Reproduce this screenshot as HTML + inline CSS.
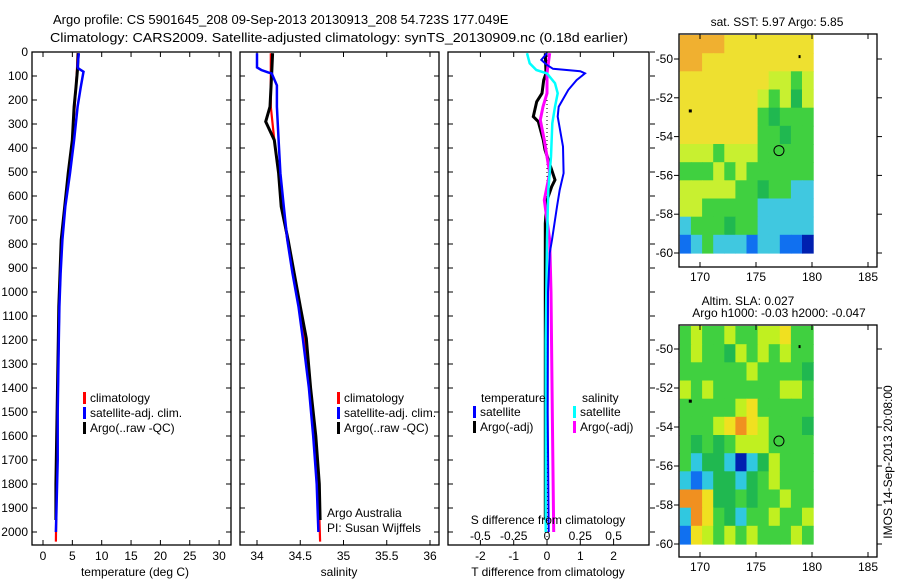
<!DOCTYPE html>
<html><head><meta charset="utf-8">
<style>
html,body{margin:0;padding:0;background:#fff;}
svg{display:block;font-family:"Liberation Sans",sans-serif;}
text{font-size:12px;fill:#000;}
</style></head>
<body>
<svg id="chart" width="900" height="580" viewBox="0 0 900 580" xmlns="http://www.w3.org/2000/svg">
<text x="53" y="24" style="font-size:13px">Argo profile: CS 5901645_208 09-Sep-2013 20130913_208 54.723S 177.049E</text>
<text x="50" y="42" style="font-size:13px" textLength="578" lengthAdjust="spacingAndGlyphs">Climatology: CARS2009. Satellite-adjusted climatology: synTS_20130909.nc (0.18d earlier)</text>
<g id="g"></g>
</svg>
<script>
// ---- data ----
const depthTicks=[0,100,200,300,400,500,600,700,800,900,1000,1100,1200,1300,1400,1500,1600,1700,1800,1900,2000];
const tempTicks=[0,5,10,15,20,25,30];
const salTicks=[34,34.5,35,35.5,36];
const salTickLabels=["34","34.5","35","35.5","36"];
const tdiffTicks=[-2,-1,0,1,2];
const sdiffTicks=[-0.5,-0.25,0,0.25,0.5];
const sdiffTickLabels=["-0.5","-0.25","0","0.25","0.5"];
// temperature profiles [depth, value]
const tempClimDepth=[5,68,150,228,367,505,644,783,922,1061,1200,1500,1800,2040];
const tempClim=[5.9,5.8,5.6,5.4,5.0,4.4,3.7,3.2,2.9,2.7,2.6,2.4,2.3,2.2];
const tempSatDepth=[5,60,68,82,96,150,228,367,505,644,783,922,1061,1200,1500,1700,2000];
const tempSat=[6.1,5.9,6.0,6.9,6.8,6.4,5.9,5.3,4.6,3.8,3.3,3.0,2.8,2.7,2.5,2.5,2.2];
const tempArgoDepth=[5,68,150,228,367,505,644,783,922,1061,1200,1500,1800,1950];
const tempArgo=[6.0,5.9,5.6,5.3,5.0,4.3,3.7,3.1,2.9,2.7,2.6,2.4,2.2,2.2];
// salinity profiles
const salClimDepth=[5,100,228,367,505,644,783,922,1061,1193,1400,1600,1800,2040];
const salClim=[34.16,34.16,34.16,34.2,34.25,34.29,34.35,34.42,34.49,34.55,34.62,34.67,34.71,34.73];
const salSatDepth=[5,64,75,85,89,139,228,367,505,644,783,922,1061,1193,1400,1600,1800,2000];
const salSat=[34.0,34.0,34.05,34.13,34.17,34.23,34.23,34.25,34.27,34.31,34.35,34.41,34.48,34.53,34.6,34.65,34.69,34.71];
const salArgoDepth=[5,89,228,290,367,505,644,783,922,1061,1193,1400,1600,1800,1950];
const salArgo=[34.18,34.17,34.15,34.1,34.2,34.25,34.28,34.36,34.43,34.5,34.57,34.62,34.68,34.72,34.73];
// differences
const tdSatDepth=[5,33,54,70,80,89,117,158,228,269,394,505,575,644,783,838,1000,1500,2000];
const tdSat=[0,-0.17,0,0.18,1.0,1.14,0.89,0.64,0.35,0.32,0.48,0.5,0.38,0.3,0.15,0.08,0.03,0.02,0.05];
const tdArgoDepth=[5,89,117,172,207,269,290,367,408,533,561,617,714,1000,1500,1950];
const tdArgo=[-0.05,-0.03,-0.1,-0.15,-0.31,-0.41,-0.26,-0.11,-0.06,0.24,0.14,0,-0.05,-0.05,-0.05,-0.05];
const sdSatDepth=[5,47,75,89,130,172,228,297,436,575,783,1200,1600,2000];
const sdSat=[-0.15,-0.13,-0.08,0,0.06,0.08,0.06,0.04,0.03,0.01,0,-0.01,-0.01,-0.01];
const sdArgoDepth=[5,89,172,228,283,367,436,505,617,783,1000,1500,2000];
const sdArgo=[0.02,0.0,0.0,-0.03,-0.05,-0.02,0,0.02,-0.02,0.02,0.03,0.04,0.05];
// maps
const latTicks=[-50,-52,-54,-56,-58,-60];
const lonTicks=[170,175,180,185];
const sstRows=["ooooyyyyyyyy","ooyyyyyyyyyy","yyyyyyyyYYgY","yyyyyyyYgYGY","yyyyyyygGggg","yyyyyyyggGgg","YYYgYYYggggg","gggYgYgggggg","YYYYYggGggcc","YYgggggccccc","cgggGggccccc","bcgcccbccbbB"];
const slaRows=["gYggYggYYygg","gYggGYgYgYgg","ggggggYggggG","YgYggggggYYg","gggggYyggggg","gggYyoyYgggG","gGgGgYYYgggg","gcGGcBcGYggg","cbcGGcGgYggg","ooyGGgGggYgg","coygGcggYggY","byYgYgYgggYg"];
const mapCol={o:"#f0b030",y:"#eee030",Y:"#c8f030",g:"#40d040",G:"#20b850",c:"#40c8e0",b:"#1070f0",B:"#0020b0"};
const slaCol={o:"#f09020",y:"#f0e020",Y:"#c0f020",g:"#40d040",G:"#20b850",c:"#30c8e0",b:"#1070f0",B:"#0020b0"};

// ---- helpers ----
const NS="http://www.w3.org/2000/svg";
const root=document.getElementById('g');
function mk(tag,attrs,parent){const e=document.createElementNS(NS,tag);for(const k in attrs)e.setAttribute(k,attrs[k]);(parent||root).appendChild(e);return e;}
const Y0=52,Y1=545,DMAX=(Y1-Y0)/0.24;
function yD(d){return Y0+d*0.24;}
function linX(v0,p0,scale){return v=>p0+(v-v0)*scale;}
const xT=linX(0,43,5.87), xS=linX(34,257,86.5), xTD=linX(0,547,33.3), xSD=linX(0,547,133.2);
function frame(x0,x1,name){
  const r=mk('rect',{x:x0,y:Y0,width:x1-x0,height:Y1-Y0,fill:'none',stroke:'#000','stroke-width':1.3});
  
}
function line(xs,ds,xf,color,w,name,dash){
  const p=mk('polyline',{points:xs.map((v,i)=>xf(v).toFixed(1)+','+yD(ds[i]).toFixed(1)).join(' '),fill:'none',stroke:color,'stroke-width':w,'stroke-linejoin':'miter'});
  if(dash)p.setAttribute('stroke-dasharray',dash);
  
}
function txt(x,y,s,name,anchor,size){
  const t=mk('text',{x:x,y:y,'text-anchor':anchor||'start'});if(size)t.style.fontSize=size+'px';t.textContent=s;
  return t;
}
function depthTicksFor(x0,x1,outsideRight){
  depthTicks.forEach(d=>{const y=yD(d);
    mk('line',{x1:x0,y1:y,x2:x0+5,y2:y,stroke:'#000'});
    if(outsideRight) mk('line',{x1:x1+1,y1:y,x2:x1+6,y2:y,stroke:'#000'});
    else mk('line',{x1:x1-5,y1:y,x2:x1,y2:y,stroke:'#000'});});
}
function xTicks(ticks,xf,labels,ly,name){
  ticks.forEach((v,i)=>{const x=xf(v);
    mk('line',{x1:x,y1:Y1,x2:x,y2:Y1-5,stroke:'#000'});
    mk('line',{x1:x,y1:Y0,x2:x,y2:Y0+5,stroke:'#000'});
    if(labels)txt(x,ly,labels[i],name,'middle');});
}
function legendEntry(x,y,color,s,name){
  const r=mk('rect',{x:x,y:y-10,width:3,height:12,fill:color});
  
  txt(x+7,y,s,name);
}

// ---- panel 1: temperature ----
frame(32,231,'temperature-panel');
depthTicksFor(32,231,false);
depthTicks.forEach(d=>txt(28,yD(d)+4,String(d),'depth-tick-label','end'));
xTicks(tempTicks,xT,tempTicks.map(String),560,'temperature-tick-label');
line(tempClim,tempClimDepth,xT,'#ff0000',2.2,'temperature-climatology-line');
line(tempArgo,tempArgoDepth,xT,'#000000',3,'temperature-argo-line');
line(tempSat,tempSatDepth,xT,'#0000ff',2.5,'temperature-satellite-line');
txt(135,576,'temperature (deg C)','temperature-axis-title','middle');
legendEntry(83,402,'#ff0000','climatology','legend-climatology');
legendEntry(83,417,'#0000ff','satellite-adj. clim.','legend-satellite-adj');
legendEntry(83,432,'#000000','Argo(..raw -QC)','legend-argo');

// ---- panel 2: salinity ----
frame(240,439,'salinity-panel');
depthTicksFor(240,439,false);
xTicks(salTicks,xS,salTickLabels,560,'salinity-tick-label');
line(salClim,salClimDepth,xS,'#ff0000',2.2,'salinity-climatology-line');
line(salArgo,salArgoDepth,xS,'#000000',3,'salinity-argo-line');
line(salSat,salSatDepth,xS,'#0000ff',2.5,'salinity-satellite-line');
txt(339,576,'salinity','salinity-axis-title','middle');
legendEntry(337,402,'#ff0000','climatology','legend-climatology-2');
legendEntry(337,417,'#0000ff','satellite-adj. clim.','legend-satellite-adj-2');
legendEntry(337,432,'#000000','Argo(..raw -QC)','legend-argo-2');
txt(327,517,'Argo Australia','argo-australia-note');
txt(327,532,'PI: Susan Wijffels','pi-note');

// ---- panel 3: differences ----
frame(448,649,'difference-panel');
depthTicksFor(448,649,true);
xTicks(tdiffTicks,xTD,tdiffTicks.map(String),560,'tdiff-tick-label');
sdiffTicks.forEach((v,i)=>txt(xSD(v),540,sdiffTickLabels[i],'sdiff-tick-label','middle'));
line([0,0],[0,DMAX],xTD,'#000',1,'zero-line','1,3');
line(tdArgo,tdArgoDepth,xTD,'#000000',3,'temperature-diff-argo-line');
line(sdArgo,sdArgoDepth,xSD,'#ff00ff',3,'salinity-diff-argo-line');
line(sdSat,sdSatDepth,xSD,'#00ffff',2.5,'salinity-diff-satellite-line');
line(tdSat,tdSatDepth,xTD,'#0000ff',2,'temperature-diff-satellite-line');
txt(548,576,'T difference from climatology','tdiff-axis-title','middle');
txt(548,524,'S difference from climatology','sdiff-axis-title','middle');
txt(481,402,'temperature','legend-temperature-header');
legendEntry(473,416,'#0000ff','satellite','legend-t-satellite');
legendEntry(473,431,'#000000','Argo(-adj)','legend-t-argo');
txt(582,402,'salinity','legend-salinity-header');
legendEntry(573,416,'#00ffff','satellite','legend-s-satellite');
legendEntry(573,431,'#ff00ff','Argo(-adj)','legend-s-argo');

// ---- maps ----
function drawMap(top,bot,lat60y,lat50y,rows,cols,name){
  const pxLat=(lat60y-lat50y)/10;
  const yL=lat=>lat50y+(-50-lat)*pxLat;
  const xL=lon=>700+(lon-170)*11.2;
  const dx0=xL(168.2),dx1=xL(180.1),dy0=top+1,dy1=yL(-60);
  const nr=rows.length,nc=rows[0].length,cw=(dx1-dx0)/nc,ch=(dy1-dy0)/nr;
  rows.forEach((row,r)=>{for(let c=0;c<nc;c++){
    const e=mk('rect',{x:(dx0+c*cw).toFixed(1),y:(dy0+r*ch).toFixed(1),width:(cw+0.6).toFixed(1),height:(ch+0.6).toFixed(1),fill:cols[row[c]]||cols.g});
    }});
  const f=mk('rect',{x:679,y:top,width:198,height:bot-top,fill:'none',stroke:'#000','stroke-width':1.3});
  
  latTicks.forEach(l=>{const y=yL(l);mk('line',{x1:674,y1:y,x2:679,y2:y,stroke:'#000'});mk('line',{x1:877,y1:y,x2:882,y2:y,stroke:'#000'});
    txt(673,y+4,String(l),name+'-lat-label','end');});
  lonTicks.forEach(l=>{const x=xL(l);mk('line',{x1:x,y1:top,x2:x,y2:top+5,stroke:'#000'});mk('line',{x1:x,y1:bot,x2:x,y2:bot-5,stroke:'#000'});
    txt(x,bot+14,String(l),name+'-lon-label','middle');});
  const c=mk('circle',{cx:xL(177.05),cy:yL(-54.72),r:5,fill:'none',stroke:'#000'});
  
  mk('rect',{x:xL(169),y:yL(-52.6),width:3,height:3,fill:'#000'});
  mk('rect',{x:xL(178.8),y:yL(-49.8),width:2,height:3,fill:'#000'});
}
drawMap(34,267,253,59,sstRows,mapCol,'sst-map');
txt(777,26,'sat. SST: 5.97 Argo: 5.85','sst-map-title','middle');
drawMap(325,557,544,349,slaRows,slaCol,'sla-map');
txt(748,305,'Altim. SLA: 0.027','sla-map-title','middle');
txt(779,317,'Argo h1000: -0.03 h2000: -0.047','sla-map-subtitle','middle');
const rt=txt(0,0,'IMOS 14-Sep-2013 20:08:00','imos-timestamp','middle');
rt.setAttribute('transform','translate(892,462) rotate(-90)');
</script>
</body></html>
